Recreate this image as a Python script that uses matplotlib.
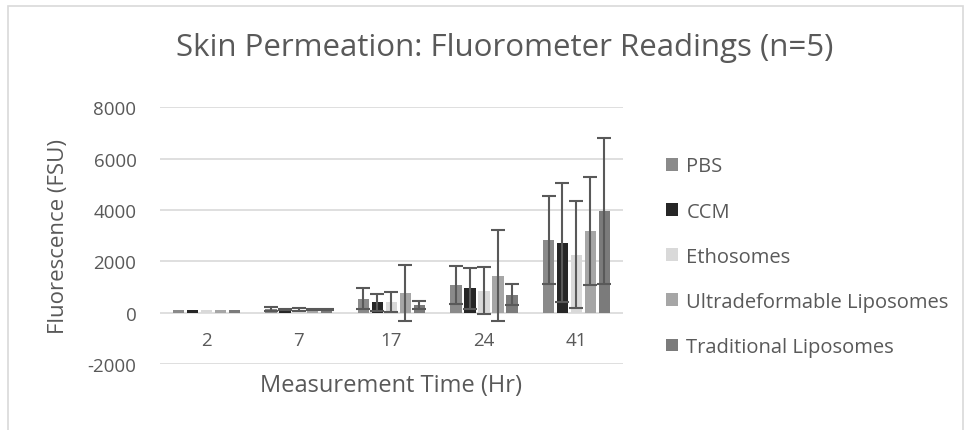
import numpy as np
import matplotlib.pyplot as plt
from matplotlib.patches import Rectangle

plt.rcParams['font.family'] = ['Open Sans', 'DejaVu Sans']
plt.rcParams['axes.unicode_minus'] = False

times = ['2', '7', '17', '24', '41']
series = ['PBS', 'CCM', 'Ethosomes', 'Ultradeformable Liposomes', 'Traditional Liposomes']
colors = ['#8a8a8a', '#262626', '#d9d9d9', '#a6a6a6', '#7b7b7b']

pbs = [100, 130, 550, 1080, 2820]
ccm = [100, 140, 400, 950, 2730]
etho = [100, 110, 430, 860, 2260]
ultra = [100, 110, 770, 1440, 3170]
trad = [100, 110, 300, 700, 3960]

pbs_err = [0, 80, 400, 750, 1720]
ccm_err = [0, 20, 340, 800, 2320]
etho_err = [0, 60, 390, 900, 2080]
ultra_err = [0, 20, 1100, 1780, 2100]
trad_err = [0, 20, 150, 400, 2850]

values = [pbs, ccm, etho, ultra, trad]
errors = [pbs_err, ccm_err, etho_err, ultra_err, trad_err]

txt = '#595959'
fig = plt.figure(figsize=(9.7, 4.31), dpi=100)
ax = fig.add_axes([0.165, 0.153, 0.477, 0.596])

x = np.arange(len(times))
step = 0.151
width = 0.122
for i in range(len(series)):
    ax.bar(x + (i - 2) * step, values[i], width, color=colors[i],
           label=series[i], zorder=2)
    e = np.array(errors[i])
    m = e > 0
    ax.errorbar((x + (i - 2) * step)[m], np.array(values[i])[m], yerr=e[m],
                fmt='none', ecolor='#595959', elinewidth=1.5, capsize=5,
                capthick=1.5, zorder=3)

ax.set_xlim(-0.5, 4.5)
ax.set_ylim(-2000, 8000)
ax.set_yticks(range(-2000, 8001, 2000))
ax.set_xticks(x)
ax.set_xticklabels(times)
ax.grid(axis='y', color='#d9d9d9', linewidth=1.2, zorder=0)
for s in ax.spines.values():
    s.set_visible(False)
# category labels sit under the zero line, as in Excel
ax.spines['bottom'].set_position(('data', 0))
ax.tick_params(length=0, labelsize=13.5, colors=txt)
ax.tick_params(axis='y', pad=17)
ax.tick_params(axis='x', pad=13)
ax.set_xlabel('Measurement Time (Hr)', fontsize=17, color=txt)
ax.set_ylabel('Fluorescence (FSU)', fontsize=16, color=txt)
ax.xaxis.set_label_coords(0.5, -0.035)
ax.yaxis.set_label_coords(-0.196, 0.5)
fig.text(0.52, 0.888, 'Skin Permeation: Fluorometer Readings (n=5)',
         ha='center', va='center', fontsize=22.5, color=txt)

ax.legend(loc='center left', bbox_to_anchor=(1.055, 0.418), frameon=False,
          fontsize=14.5, labelcolor=txt, handlelength=0.6, handleheight=0.6,
          handletextpad=0.4, labelspacing=1.25)

fig.patches.append(Rectangle((8 / 970, -0.1), 955 / 970, 1.1 - 7 / 431,
                             transform=fig.transFigure, fill=False,
                             edgecolor='#d9d9d9', linewidth=1.2))

fig.savefig('out.png', dpi=100)
